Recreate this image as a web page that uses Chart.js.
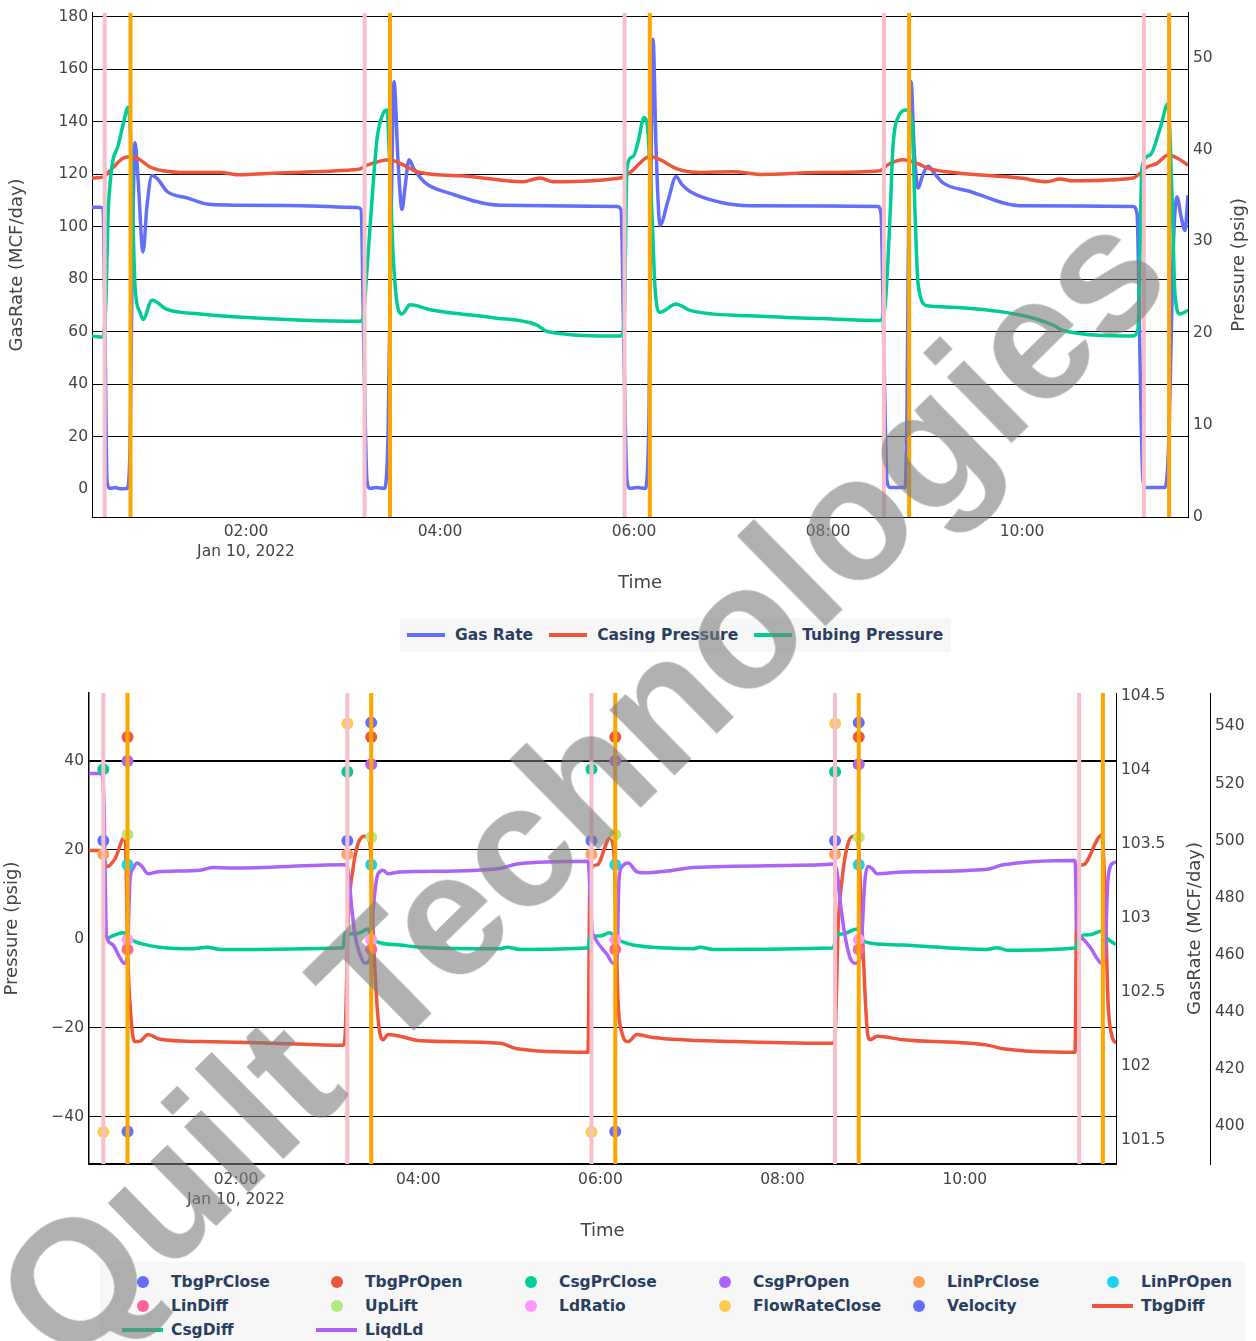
<!DOCTYPE html>
<html>
<head>
<meta charset="utf-8">
<script src="https://cdn.jsdelivr.net/npm/chart.js@4.4.1/dist/chart.umd.min.js"></script>
<style>
  html, body { margin: 0; padding: 0; background: #fff; }
  #page { position: relative; width: 1256px; height: 1341px; overflow: hidden; background: #fff; }
  canvas { position: absolute; left: 0; }
  #c1 { top: 0; }
  #c2 { top: 660px; }
  .legend { position: absolute; background: #f7f7f7; font-family: 'DejaVu Sans', Verdana, sans-serif; font-weight: bold; font-size: 15.5px; color: #2a3f5f; white-space: nowrap; }
  #leg1 { left: 400px; top: 618px; width: 551px; height: 34px; display: flex; align-items: center; }
  #leg1 .it { display: flex; align-items: center; flex-shrink: 0; margin-left: 7px; margin-right: 9px; }
  .ln { display: inline-block; flex-shrink: 0; width: 38px; height: 4px; margin-right: 10px; }
  #leg2 { left: 100px; top: 1262px; width: 1145px; height: 79px; }
  #leg2 .it { position: absolute; display: flex; align-items: center; height: 24px; }
  .dot { display: inline-block; flex-shrink: 0; width: 12px; height: 12px; border-radius: 50%; margin-left: 15px; margin-right: 22px; }
  #leg2 .ln { width: 41px; margin-right: 8px; }
  #wm { position: absolute; left: 580px; top: 784px; transform: translate(-50%, -50%) rotate(-44.5deg); font-family: 'Liberation Sans', Arial, sans-serif; font-weight: bold; font-size: 174px; line-height: 1; color: rgba(125,125,125,0.6); white-space: nowrap; pointer-events: none; }
</style>
</head>
<body>
<div id="page">
  <canvas id="c1" width="1256" height="600"></canvas>
  <div id="leg1" class="legend"></div>
  <canvas id="c2" width="1256" height="600"></canvas>
  <div id="leg2" class="legend"></div>
  <div id="wm">Quilt Technologies</div>
</div>
<script>
// ---------- shared event times (hours after midnight, Jan 10 2022) ----------
const CLOSE_TIMES = [0.543, 3.222, 5.902, 8.576, 11.256];
const OPEN_TIMES  = [0.809, 3.484, 6.163, 8.836, 11.516];
const X_TICKS = [2, 4, 6, 8, 10];
const DATE_LABEL = 'Jan 10, 2022';

// ---------- top chart ----------
const GAS_T = [0.412,0.495,0.526,0.546,0.567,0.598,0.649,0.701,0.773,0.804,0.825,0.856,0.887,0.938,0.979,1.031,1.093,1.186,1.392,1.598,1.866,2.557,3.144,3.186,3.216,3.247,3.278,3.340,3.423,3.464,3.495,3.526,3.567,3.608,3.639,3.680,3.732,3.845,4.103,4.619,5.825,5.866,5.897,5.928,5.959,6.031,6.113,6.155,6.175,6.196,6.227,6.268,6.351,6.433,6.495,6.577,6.887,7.196,8.515,8.546,8.577,8.608,8.639,8.794,8.814,8.835,8.856,8.887,8.928,8.979,9.031,9.103,9.186,9.464,9.979,11.144,11.186,11.216,11.247,11.278,11.474,11.515,11.557,11.598,11.639,11.680,11.711];
const GAS_RATE = [107.4,107.4,107.0,60,3,0.3,0.6,0.2,0.3,15,80,132,118,90.4,108,119.5,118,113.4,111,108.6,108.2,108,107.3,106.5,50,3,0.3,0.6,0.3,20,100,155.2,125,106.6,115,125.5,122,116.8,112.7,108.2,107.7,106.5,50,3,0.3,0.6,0.3,30,120,171.4,130,100.6,110,119,116,113.4,109.3,108,107.7,105,50,3,0.6,0.6,30,120,155.2,130,114.7,120,123,120,116.7,113.4,108,107.7,105,50,3,0.6,0.6,20,90,111.3,104,98.5,112];

const CSG_T = [0.412,0.526,0.598,0.732,0.825,0.907,1.010,1.144,1.392,1.732,1.938,2.216,3.103,3.175,3.247,3.485,3.588,3.794,4.278,4.856,5.031,5.165,5.856,5.959,6.165,6.268,6.443,6.680,7.021,7.299,7.918,8.536,8.608,8.773,8.918,9.052,9.289,9.979,10.258,10.392,10.526,11.144,11.289,11.392,11.505,11.629,11.711];
const CASING_PRESSURE = [36.9,37.0,37.7,39.05,39.25,38.9,38.1,37.7,37.5,37.5,37.25,37.4,37.8,37.9,38.3,38.9,38.5,37.5,37.1,36.5,36.9,36.5,36.9,37.5,39.25,38.9,37.9,37.5,37.6,37.3,37.5,37.7,38.3,38.9,38.5,37.9,37.5,36.9,36.5,36.8,36.6,36.9,38.1,38.5,39.4,38.9,38.3];

const TBG_T = [0.412,0.526,0.557,0.577,0.608,0.629,0.680,0.732,0.784,0.814,0.856,0.907,0.938,1.031,1.186,1.526,1.866,3.175,3.206,3.247,3.299,3.351,3.412,3.454,3.474,3.515,3.567,3.608,3.691,3.928,4.546,5.000,5.103,5.856,5.897,5.928,5.990,6.041,6.103,6.134,6.186,6.216,6.268,6.433,6.577,7.196,7.918,8.536,8.588,8.639,8.670,8.722,8.814,8.866,8.897,8.928,9.021,9.155,9.979,10.320,10.423,11.144,11.196,11.237,11.320,11.423,11.505,11.546,11.577,11.629,11.711];
const TUBING_PRESSURE = [19.7,19.6,24,32.7,37.3,38.9,40.4,42.7,44.6,40.4,25.0,22.3,21.5,23.6,22.6,22.1,21.8,21.3,21.6,26.9,34.6,41.2,43.9,44.3,40.4,28.8,22.7,22.1,23.1,22.5,21.7,20.9,20.2,19.7,21,38.1,39.25,40.8,43.5,42.9,32.7,25,22.3,23.2,22.5,21.9,21.6,21.4,23.0,32.7,40.4,43.5,44.3,42.9,33,25.4,23.0,22.9,22.0,20.9,20.3,19.7,20.5,38.1,39.4,42.3,45.0,35,24.2,22.1,22.5];

const TOP_RATE_TICKS = [0, 20, 40, 60, 80, 100, 120, 140, 160, 180];
const TOP_PRES_TICKS = [0, 10, 20, 30, 40, 50];

// ---------- bottom chart ----------
const TBGD_T = [0.386,0.507,0.540,0.584,0.672,0.782,0.815,0.858,0.891,0.946,1.034,1.166,1.605,2.340,3.175,3.197,3.230,3.285,3.340,3.416,3.471,3.504,3.559,3.614,3.669,3.800,4.020,4.898,5.085,5.864,5.886,5.963,6.105,6.149,6.193,6.237,6.303,6.402,6.578,7.456,8.554,8.576,8.609,8.653,8.708,8.774,8.829,8.873,8.928,8.961,9.038,9.323,10.245,10.420,11.210,11.232,11.298,11.506,11.539,11.572,11.616,11.660];
const TBG_DIFF = [19.8,19.8,18.5,16.2,18,23.0,-5.9,-20.3,-23.1,-23.0,-21.5,-22.6,-23.1,-23.4,-23.9,-22,3.75,15.8,21.4,23.0,21.4,2.2,-17.9,-22.7,-21.5,-21.9,-22.9,-23.5,-24.7,-25.5,15.0,16.6,22.6,19,-13.9,-21.1,-23.1,-21.5,-22.2,-23.1,-23.5,-22,2.2,13.4,20.6,23.0,21.5,2.2,-20.3,-22.7,-21.9,-22.7,-23.9,-24.7,-25.5,15.8,16.6,23.3,10.2,-13.9,-21.9,-23.5];

const CSGD_T = [0.551,0.584,0.650,0.760,0.803,0.858,0.946,1.166,1.528,1.682,1.825,3.175,3.197,3.252,3.361,3.449,3.493,3.580,3.800,4.020,4.898,4.975,5.118,5.864,5.886,5.996,6.105,6.160,6.237,6.358,6.731,7.016,7.093,7.236,8.554,8.598,8.664,8.818,8.873,8.993,9.323,10.245,10.355,10.464,11.210,11.265,11.375,11.506,11.561,11.660];
const CSG_DIFF = [5,0.1,0.7,1.35,0.9,-0.25,-1.05,-1.9,-2.25,-1.9,-2.4,-2.0,1.35,1.1,1.35,2.2,0.1,-0.9,-1.4,-1.9,-2.25,-1.9,-2.4,-2.1,0.6,0.6,1.35,0.1,-0.65,-1.4,-2.1,-2.25,-1.9,-2.4,-2.1,0.95,1.1,2.2,-0.25,-1.05,-1.4,-2.4,-2.0,-2.6,-2.1,0.6,0.9,1.75,0.1,-1.3];

const LIQ_T = [0.386,0.518,0.551,0.573,0.584,0.650,0.727,0.771,0.803,0.837,0.870,0.913,0.968,1.034,1.133,1.605,1.748,1.967,3.175,3.219,3.274,3.307,3.361,3.416,3.471,3.504,3.559,3.614,3.669,3.800,4.020,4.898,5.085,5.864,5.908,5.941,6.072,6.138,6.182,6.204,6.237,6.303,6.402,6.468,6.731,7.016,8.410,8.554,8.598,8.631,8.686,8.741,8.796,8.850,8.905,8.937,8.981,9.038,9.323,10.245,10.420,11.210,11.232,11.287,11.375,11.506,11.539,11.572,11.627,11.660];
const LIQD_LD = [37.1,37.1,30,2.2,0.1,-1.4,-4.3,-5.5,-4.5,13.4,15.8,17.0,16.2,14.6,15.0,15.4,16.0,15.9,16.6,16.4,6.2,0.6,-3.5,-5.5,-4.5,6.2,14.6,15.4,14.6,15.0,15.1,15.8,16.8,17.4,2.2,0.1,-3.5,-5.5,-4.5,13.4,16.2,17.0,15.0,14.8,15.2,16.0,16.6,16.8,15.0,8.6,0.6,-4.3,-5.5,-4.5,13.4,16.2,15.8,14.6,15.0,15.6,16.6,17.6,2.2,0.1,-1.9,-5.5,-3,13.4,17.0,17.2];

// event markers (first four cycles): values at close / open times
const TBG_PR_CLOSE = [22.0, 22.0, 22.0, 22.0];
const CSG_PR_CLOSE = [38.1, 37.5, 38.1, 37.5];
const LIN_PR_CLOSE = [19.0, 19.0, 19.0, 19.0];
const FLOW_RATE_CLOSE = [398, 541, 398, 541];       // GasRate (MCF/day) axis
const TBG_PR_OPEN = [45.3, 45.3, 45.3, 45.3];
const CSG_PR_OPEN = [39.9, 39.2, 39.9, 39.2];
const LIN_PR_OPEN = [16.6, 16.6, 16.6, 16.6];
const LIN_DIFF = [-2.4, -2.4, -2.4, -2.4];
const UP_LIFT = [23.4, 22.8, 23.4, 22.8];
const LD_RATIO = [-0.2, -0.2, -0.2, -0.2];
const VELOCITY = [101.56, 104.32, 101.56, 104.32];   // middle axis

const BOT_PRES_TICKS = [-40, -20, 0, 20, 40];
const BOT_MID_TICKS = [101.5, 102, 102.5, 103, 103.5, 104, 104.5];
const BOT_RATE_TICKS = [400, 420, 440, 460, 480, 500, 520, 540];

// ---------- colours ----------
const C = { blue: '#636efa', red: '#EF553B', green: '#00cc96', purple: '#ab63fa', orange: '#FFA15A', cyan: '#19d3f3', pinkred: '#FF6692', lime: '#B6E880', magenta: '#FF97FF', yellow: '#FECB52', pink: '#f7bfca', vorange: '#FFA500' };

Chart.defaults.font.family = "'DejaVu Sans', Verdana, sans-serif";
Chart.defaults.color = '#444';

const pts = (t, v) => t.map((x, i) => ({ x: x, y: v[i] }));
const fmtTime = v => { const h = Math.floor(v + 1e-9); const m = Math.round((v - h) * 60); return String(h).padStart(2, '0') + ':' + String(m).padStart(2, '0'); };

function vlines(times, lo, hi, color, axis) {
  const d = [];
  times.forEach(t => { d.push({ x: t, y: lo }, { x: t, y: hi }, { x: t, y: null }); });
  return { data: d, borderColor: color, borderWidth: 4, pointRadius: 0, tension: 0, yAxisID: axis, order: 0, spanGaps: false };
}
function lineDs(t, v, color, axis, order) {
  return { data: pts(t, v), borderColor: color, borderWidth: 3.5, pointRadius: 0, cubicInterpolationMode: 'monotone', yAxisID: axis, order: order, fill: false };
}
function markerDs(times, v, color, axis) {
  return { data: v.map((y, i) => ({ x: times[i], y: y })), showLine: false, pointRadius: 6, pointBackgroundColor: color, pointBorderWidth: 0, borderColor: color, yAxisID: axis, order: 1 };
}

const sideTitle = {
  id: 'sideTitle',
  afterDraw(chart, args, opts) {
    const { ctx, chartArea } = chart;
    (opts.items || []).forEach(it => {
      ctx.save();
      ctx.translate(it.x, (chartArea.top + chartArea.bottom) / 2);
      ctx.rotate(-Math.PI / 2);
      ctx.font = "18px 'DejaVu Sans', Verdana, sans-serif";
      ctx.fillStyle = '#444';
      ctx.textAlign = 'center';
      ctx.textBaseline = 'middle';
      ctx.fillText(it.text, 0, 0);
      ctx.restore();
    });
  }
};

const xTickFont = { size: 15.5, lineHeight: 1.3 };
const yTickFont = { size: 15.5, lineHeight: 1.0 };
const titleFont = { size: 18 };

function xScale(min, max, height, tpad, titlePad) {
  return {
    type: 'linear', min: min, max: max,
    grid: { display: false, drawTicks: false },
    border: { display: true, color: '#000', width: 1 },
    ticks: { font: xTickFont, color: '#444', padding: tpad, maxRotation: 0, autoSkip: false,
      callback: v => (v === X_TICKS[0] ? [fmtTime(v), DATE_LABEL] : fmtTime(v)) },
    title: { display: true, text: 'Time', font: titleFont, color: '#444', padding: { top: 0, bottom: titlePad } },
    afterBuildTicks: s => { s.ticks = X_TICKS.map(v => ({ value: v })); },
    afterFit: s => { s.height = height; }
  };
}

// ---------- top chart ----------
const TOP_RATE_MIN = -10.6, TOP_RATE_MAX = 181.5;
new Chart(document.getElementById('c1'), {
  type: 'line',
  data: { datasets: [
    vlines(CLOSE_TIMES, TOP_RATE_MIN, TOP_RATE_MAX, C.pink, 'y'),
    vlines(OPEN_TIMES, TOP_RATE_MIN, TOP_RATE_MAX, C.vorange, 'y'),
    Object.assign(lineDs(TBG_T, TUBING_PRESSURE, C.green, 'y1', 1), { label: 'Tubing Pressure' }),
    Object.assign(lineDs(CSG_T, CASING_PRESSURE, C.red, 'y1', 2), { label: 'Casing Pressure' }),
    Object.assign(lineDs(GAS_T, GAS_RATE, C.blue, 'y', 3), { label: 'Gas Rate' })
  ] },
  plugins: [sideTitle],
  options: {
    responsive: false, animation: false, events: [],
    layout: { padding: { top: 9, left: 0, right: 0, bottom: 0 } },
    plugins: { legend: { display: false }, tooltip: { enabled: false },
      sideTitle: { items: [{ x: 1239, text: 'Pressure (psig)' }] } },
    scales: {
      x: xScale(0.412, 11.711, 83, 5, 6),
      y: {
        position: 'left', min: TOP_RATE_MIN, max: TOP_RATE_MAX,
        grid: { drawTicks: false, color: c => (c.tick && c.tick.value === 0 ? 'rgba(0,0,0,0)' : '#000'), lineWidth: 1 },
        border: { display: true, color: '#000', width: 1 },
        ticks: { font: yTickFont, color: '#444', padding: 4 },
        title: { display: true, text: 'GasRate (MCF/day)', font: titleFont, color: '#444', padding: { top: 7, bottom: 0 } },
        afterBuildTicks: s => { s.ticks = TOP_RATE_TICKS.map(v => ({ value: v })); },
        afterFit: s => { s.width = 92; }
      },
      y1: {
        position: 'right', min: 0, max: 54.9,
        grid: { display: false, drawTicks: false },
        border: { display: true, color: '#000', width: 1 },
        ticks: { font: yTickFont, color: '#444', padding: 5 },
        afterBuildTicks: s => { s.ticks = TOP_PRES_TICKS.map(v => ({ value: v })); },
        afterFit: s => { s.width = 68; }
      }
    }
  }
});

// ---------- bottom chart ----------
const BOT_MIN = -50.6, BOT_MAX = 55.2;
new Chart(document.getElementById('c2'), {
  type: 'line',
  data: { datasets: [
    vlines(CLOSE_TIMES, BOT_MIN, BOT_MAX, C.pink, 'y'),
    vlines(OPEN_TIMES, BOT_MIN, BOT_MAX, C.vorange, 'y'),
    markerDs(CLOSE_TIMES, TBG_PR_CLOSE, C.blue, 'y'),
    markerDs(OPEN_TIMES, TBG_PR_OPEN, C.red, 'y'),
    markerDs(CLOSE_TIMES, CSG_PR_CLOSE, C.green, 'y'),
    markerDs(OPEN_TIMES, CSG_PR_OPEN, C.purple, 'y'),
    markerDs(CLOSE_TIMES, LIN_PR_CLOSE, C.orange, 'y'),
    markerDs(OPEN_TIMES, LIN_PR_OPEN, C.cyan, 'y'),
    markerDs(OPEN_TIMES, LIN_DIFF, C.pinkred, 'y'),
    markerDs(OPEN_TIMES, UP_LIFT, C.lime, 'y'),
    markerDs(OPEN_TIMES, LD_RATIO, C.magenta, 'y'),
    markerDs(CLOSE_TIMES, FLOW_RATE_CLOSE, C.yellow, 'y3'),
    markerDs(OPEN_TIMES, VELOCITY, C.blue, 'y2'),
    lineDs(LIQ_T, LIQD_LD, C.purple, 'y', 2),
    lineDs(CSGD_T, CSG_DIFF, C.green, 'y', 3),
    lineDs(TBGD_T, TBG_DIFF, C.red, 'y', 4)
  ] },
  plugins: [sideTitle],
  options: {
    responsive: false, animation: false, events: [],
    layout: { padding: { top: 33, left: 0, right: 0, bottom: 0 } },
    plugins: { legend: { display: false }, tooltip: { enabled: false },
      sideTitle: { items: [{ x: 1195, text: 'GasRate (MCF/day)' }] } },
    scales: {
      x: Object.assign(xScale(0.386, 11.66, 96, 6, 18), { border: { display: true, color: '#000', width: 2 } }),
      y: {
        position: 'left', min: BOT_MIN, max: BOT_MAX,
        grid: { drawTicks: false, color: c => (c.tick && c.tick.value === 0 ? 'rgba(0,0,0,0)' : '#000'), lineWidth: c => (c.tick && c.tick.value === 40 ? 2 : 1) },
        border: { display: true, color: '#000', width: 1.5 },
        ticks: { font: yTickFont, color: '#444', padding: 5, callback: v => (v < 0 ? '\u2212' + Math.abs(v) : String(v)) },
        title: { display: true, text: 'Pressure (psig)', font: titleFont, color: '#444', padding: { top: 2, bottom: 0 } },
        afterBuildTicks: s => { s.ticks = BOT_PRES_TICKS.map(v => ({ value: v })); },
        afterFit: s => { s.width = 89; }
      },
      y2: {
        position: 'right', min: 101.34, max: 104.52,
        grid: { display: false, drawTicks: false },
        border: { display: true, color: '#000', width: 1 },
        ticks: { font: yTickFont, color: '#444', padding: 5, callback: v => String(v) },
        afterBuildTicks: s => { s.ticks = BOT_MID_TICKS.map(v => ({ value: v })); },
        afterFit: s => { s.width = 94; }
      },
      y3: {
        position: 'right', min: 386.8, max: 551.7,
        grid: { display: false, drawTicks: false },
        border: { display: true, color: '#000', width: 1 },
        ticks: { font: yTickFont, color: '#444', padding: 5, callback: v => String(v) },
        afterBuildTicks: s => { s.ticks = BOT_RATE_TICKS.map(v => ({ value: v })); },
        afterFit: s => { s.width = 46; }
      }
    }
  }
});

// ---------- HTML legends ----------
const LEG1 = [['Gas Rate', C.blue], ['Casing Pressure', C.red], ['Tubing Pressure', C.green]];
const leg1 = document.getElementById('leg1');
LEG1.forEach(([name, col]) => {
  const it = document.createElement('div'); it.className = 'it';
  it.innerHTML = '<span class="ln" style="background:' + col + '"></span><span>' + name + '</span>';
  leg1.appendChild(it);
});
const LEG2 = [
  ['TbgPrClose', C.blue, 'dot'], ['TbgPrOpen', C.red, 'dot'], ['CsgPrClose', C.green, 'dot'], ['CsgPrOpen', C.purple, 'dot'], ['LinPrClose', C.orange, 'dot'], ['LinPrOpen', C.cyan, 'dot'],
  ['LinDiff', C.pinkred, 'dot'], ['UpLift', C.lime, 'dot'], ['LdRatio', C.magenta, 'dot'], ['FlowRateClose', C.yellow, 'dot'], ['Velocity', C.blue, 'dot'], ['TbgDiff', C.red, 'ln'],
  ['CsgDiff', C.green, 'ln'], ['LiqdLd', C.purple, 'ln']
];
const leg2 = document.getElementById('leg2');
LEG2.forEach(([name, col, kind], i) => {
  const it = document.createElement('div'); it.className = 'it';
  it.style.left = (22 + 194 * (i % 6)) + 'px';
  it.style.top = (8 + 24 * Math.floor(i / 6)) + 'px';
  it.innerHTML = '<span class="' + kind + '" style="background:' + col + '"></span><span>' + name + '</span>';
  leg2.appendChild(it);
});
</script>
</body>
</html>
